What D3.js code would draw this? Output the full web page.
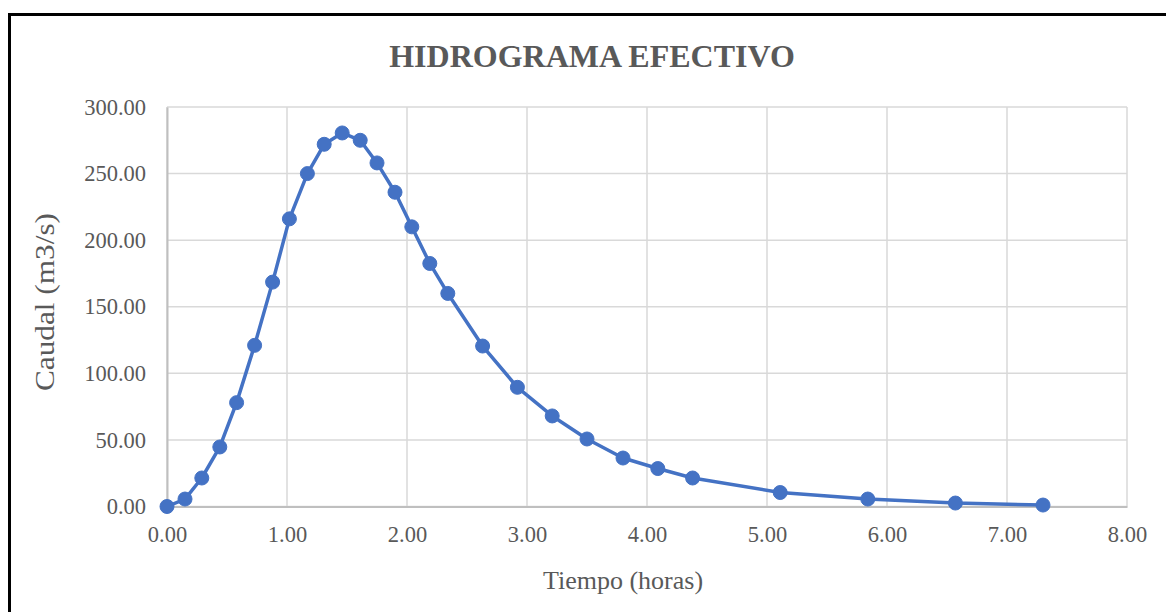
<!DOCTYPE html>
<html>
<head>
<meta charset="utf-8">
<script src="https://cdn.jsdelivr.net/npm/d3@7"></script>
<style>
  body { margin: 0; background: #fff; }
  text { font-family: "Liberation Serif", "Times New Roman", serif; }
</style>
</head>
<body>
<svg id="chart" width="1166" height="612"></svg>
<script>
// datos
const tiempo = [0.00, 0.15, 0.29, 0.44, 0.58, 0.73, 0.88, 1.02, 1.17, 1.31, 1.46, 1.61, 1.75,
  1.90, 2.04, 2.19, 2.34, 2.63, 2.92, 3.21, 3.50, 3.80, 4.09, 4.38, 5.11, 5.84, 6.57, 7.30];
const caudal = [0.0, 5.6, 21.4, 44.7, 78.0, 121.0, 168.5, 216.0, 250.0, 272.0, 280.5, 275.0, 258.0,
  236.0, 210.0, 182.5, 160.0, 120.5, 89.5, 68.0, 50.7, 36.4, 28.5, 21.4, 10.5, 5.6, 2.6, 1.1];
const xTicks = [0, 1, 2, 3, 4, 5, 6, 7, 8];
const yTicks = [0, 50, 100, 150, 200, 250, 300];

const svg = d3.select('#chart');
const margin = { left: 167, top: 107, right: 1166 - 1127, bottom: 612 - 506.5 };
const width = 1166 - margin.left - margin.right;
const height = 612 - margin.top - margin.bottom;

// marco negro
svg.append('path')
  .attr('d', 'M9.5,620 L9.5,14.5 L1175,14.5')
  .attr('fill', 'none')
  .attr('stroke', '#000')
  .attr('stroke-width', 3);

svg.append('text')
  .attr('x', 592)
  .attr('y', 67)
  .attr('text-anchor', 'middle')
  .attr('font-size', 32)
  .attr('font-weight', 'bold')
  .attr('fill', '#595959')
  .text('HIDROGRAMA EFECTIVO');

const g = svg.append('g').attr('transform', `translate(${margin.left},${margin.top})`);

const x = d3.scaleLinear().domain([0, 8]).range([0, width]);
const y = d3.scaleLinear().domain([0, 300]).range([height, 0]);

// rejilla
g.append('g')
  .selectAll('line')
  .data(yTicks)
  .join('line')
  .attr('x1', 0).attr('x2', width)
  .attr('y1', d => y(d)).attr('y2', d => y(d))
  .attr('stroke', '#d9d9d9')
  .attr('stroke-width', 1.5);
g.append('g')
  .selectAll('line')
  .data(xTicks)
  .join('line')
  .attr('y1', 0).attr('y2', height)
  .attr('x1', d => x(d)).attr('x2', d => x(d))
  .attr('stroke', '#d9d9d9')
  .attr('stroke-width', 1.5);

// ejes
const xAxis = g.append('g')
  .attr('transform', `translate(0,${height})`)
  .call(d3.axisBottom(x).tickValues(xTicks).tickSize(0).tickPadding(20).tickFormat(d3.format('.2f')));
const yAxis = g.append('g')
  .call(d3.axisLeft(y).tickValues(yTicks).tickSize(0).tickPadding(21).tickFormat(d3.format('.2f')));
[xAxis, yAxis].forEach(a => {
  a.select('.domain').attr('stroke', '#bfbfbf').attr('stroke-width', 2);
  a.selectAll('text')
    .attr('font-family', '"Liberation Serif", "Times New Roman", serif')
    .attr('font-size', 22.5)
    .attr('fill', '#595959');
});

// titulos de ejes
svg.append('text')
  .attr('x', 623)
  .attr('y', 589)
  .attr('text-anchor', 'middle')
  .attr('font-size', 26)
  .attr('fill', '#595959')
  .text('Tiempo (horas)');
svg.append('text')
  .attr('transform', 'translate(54,302) rotate(-90)')
  .attr('text-anchor', 'middle')
  .attr('font-size', 27)
  .attr('textLength', 178)
  .attr('lengthAdjust', 'spacingAndGlyphs')
  .attr('fill', '#595959')
  .text('Caudal (m3/s)');

// serie
const data = tiempo.map((t, i) => ({ t, q: caudal[i] }));
const line = d3.line()
  .x(d => x(d.t))
  .y(d => y(d.q));

g.append('path')
  .datum(data)
  .attr('d', line)
  .attr('fill', 'none')
  .attr('stroke', '#4472c4')
  .attr('stroke-width', 3.5)
  .attr('stroke-linejoin', 'round');

g.append('g')
  .selectAll('circle')
  .data(data)
  .join('circle')
  .attr('cx', d => x(d.t))
  .attr('cy', d => y(d.q))
  .attr('r', 7)
  .attr('fill', '#4472c4')
  .attr('stroke', '#4472c4')
  .attr('stroke-width', 1);
</script>
</body>
</html>
